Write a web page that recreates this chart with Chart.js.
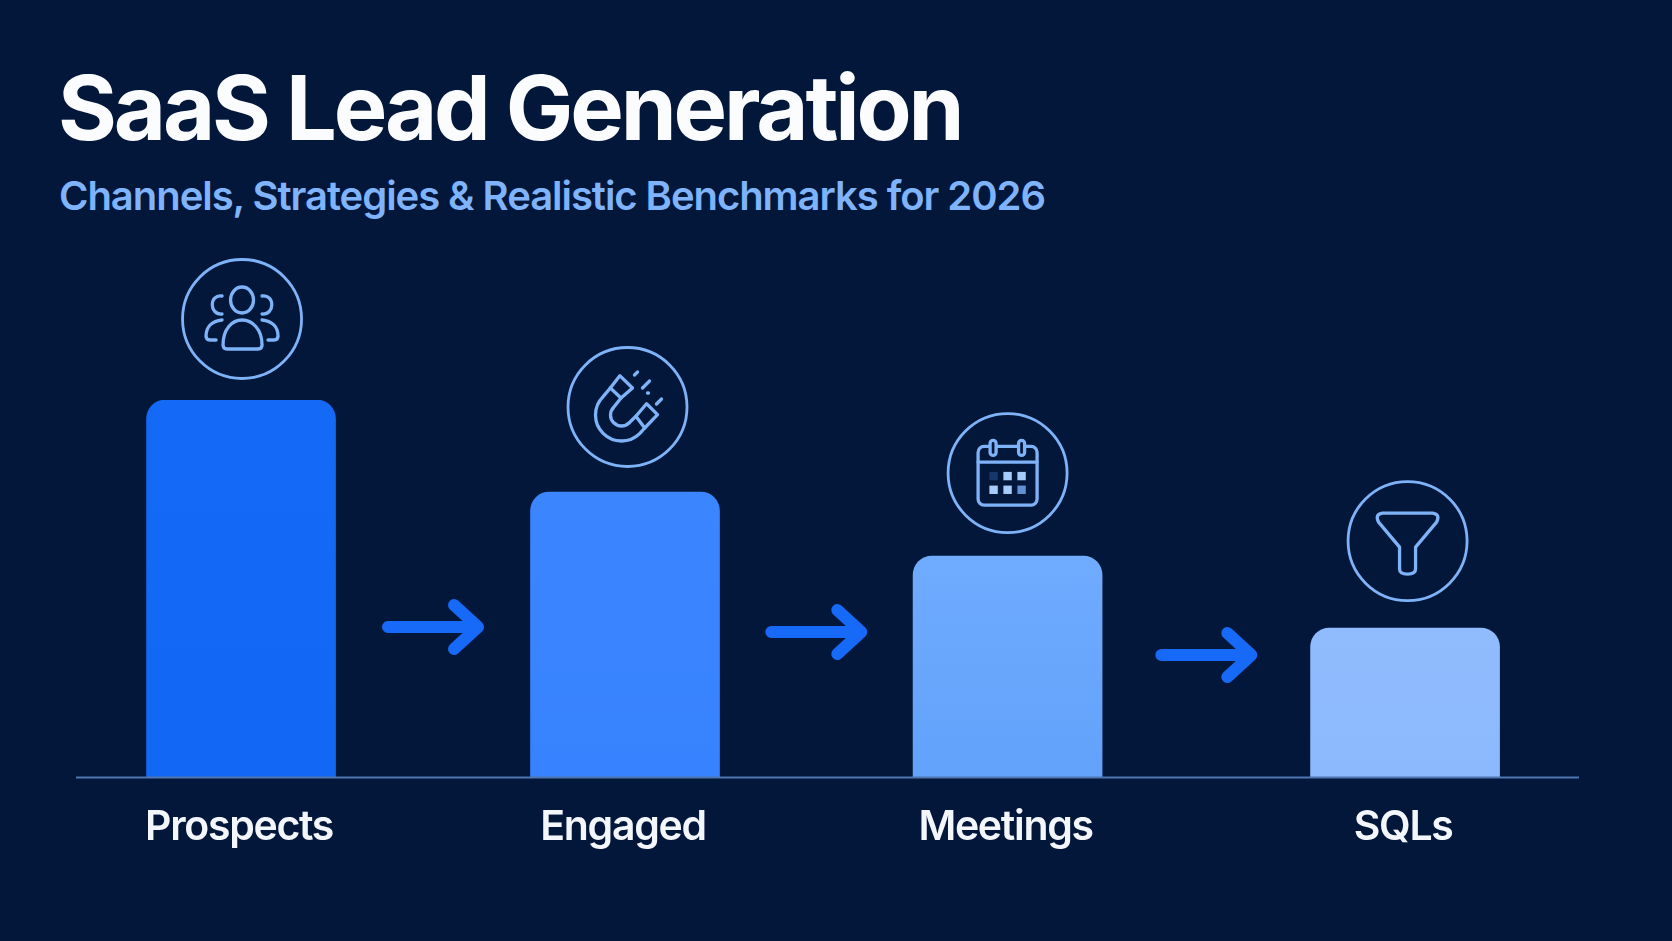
<!DOCTYPE html>
<html>
<head>
<meta charset="utf-8">
<title>SaaS Lead Generation</title>
<script src="https://cdn.jsdelivr.net/npm/chart.js@4"></script>
<style>
  html, body { margin: 0; padding: 0; background: #03173a; overflow: hidden; }
  #page { position: relative; width: 1672px; height: 941px; }
  #page canvas { position: absolute; left: 0; top: 0; }
  h1, h2 { position: absolute; margin: 0; white-space: nowrap; font-family: Inter, sans-serif; }
  h1 { left: 58px; top: 54px; font-size: 90px; line-height: 108px; font-weight: 700; color: #fbfcfe; letter-spacing: -3.15px; }
  h2 { left: 59px; top: 171px; font-size: 40px; line-height: 50px; font-weight: 600; color: #7fb3fb; letter-spacing: -1.05px; }
</style>
</head>
<body>
<div id="page">
  <h1>SaaS Lead Generation</h1>
  <h2>Channels, Strategies &amp; Realistic Benchmarks for 2026</h2>
  <canvas id="funnel" width="1672" height="941"></canvas>
</div>
<script>
// Values, as bar height relative to Prospects
const stages = ['Prospects', 'Engaged', 'Meetings', 'SQLs'];
const stageValues = [100, 75.6, 58.6, 39.5];

const barTop = ['#1469f6', '#3b85ff', '#6fabfe', '#90bcfe'];
const barBottom = ['#1367f5', '#3782fe', '#62a2fb', '#8cb9fd'];

const LINE = '#7eb3f8';
const ARROW = '#1769f8';

// The stages are not quite evenly spaced in the picture, so the category
// slots get a small pixel shift each.
const slotShift = [2.6, -0.9, -5.8, 4.2];

class StageScale extends Chart.CategoryScale {
  static id = 'stage';
  getPixelForValue(value, index) {
    return super.getPixelForValue(value, index) + (slotShift[Math.round(value)] || 0);
  }
}
Chart.register(StageScale);

function barFill(ctx) {
  const i = ctx.dataIndex;
  const area = ctx.chart.chartArea;
  const yScale = ctx.chart.scales.y;
  if (!area || !yScale) return barTop[i];
  const top = yScale.getPixelForValue(stageValues[i]);
  if (!Number.isFinite(top) || !Number.isFinite(area.bottom)) return barTop[i];
  const grad = ctx.chart.ctx.createLinearGradient(0, top, 0, area.bottom);
  grad.addColorStop(0, barTop[i]);
  grad.addColorStop(1, barBottom[i]);
  return grad;
}

// --- icons, drawn around (0,0) which is the middle of the ring
function peopleIcon(c) {
  c.beginPath();
  c.ellipse(0, -19, 11.5, 13, 0, 0, Math.PI * 2);
  c.stroke();
  // middle body
  c.beginPath();
  c.moveTo(-15, 30);
  c.quadraticCurveTo(-19, 30, -19, 26);
  c.bezierCurveTo(-19, 10, -10, 1, 0, 1);
  c.bezierCurveTo(10, 1, 20, 10, 20, 26);
  c.quadraticCurveTo(20, 30, 16, 30);
  c.closePath();
  c.stroke();
  for (const s of [-1, 1]) {
    c.beginPath();
    c.moveTo(s * 20, -23);
    c.bezierCurveTo(s * 33, -25, s * 33, -4, s * 20, -5);
    c.stroke();
    c.beginPath();
    c.moveTo(s * 20, 1);
    c.bezierCurveTo(s * 30, 2, s * 36, 8, s * 36, 17);
    c.quadraticCurveTo(s * 36, 21, s * 32, 21);
    c.lineTo(s * 26, 21);
    c.stroke();
  }
}

function magnetIcon(c) {
  c.beginPath();
  c.moveTo(-7.7, -31.3);
  c.lineTo(5, -19);
  c.lineTo(-6.5, -9);
  c.lineTo(-17.2, -19);
  c.closePath();
  c.stroke();
  c.beginPath();
  c.moveTo(19, -3.3);
  c.lineTo(30, 7.7);
  c.lineTo(17.2, 21);
  c.lineTo(8.4, 9.3);
  c.closePath();
  c.stroke();
  c.beginPath();
  c.moveTo(-17.2, -19);
  c.lineTo(-24.4, -10.4);
  c.arc(-6, 8, 26, Math.PI * 1.25, Math.PI * 0.25, true);
  c.lineTo(17.2, 21);
  c.stroke();
  c.beginPath();
  c.moveTo(-6.5, -9);
  c.lineTo(-13.8, 0.2);
  c.arc(-6, 8, 11, Math.PI * 1.25, Math.PI * 0.25, true);
  c.lineTo(8.4, 9.3);
  c.stroke();
  // sparks
  c.beginPath();
  c.moveTo(7, -32); c.lineTo(10, -35);
  c.moveTo(15, -19); c.lineTo(22, -26);
  c.moveTo(20, -14); c.lineTo(21, -14);
  c.moveTo(29, -3); c.lineTo(34, -8);
  c.stroke();
}

function calendarIcon(c) {
  c.beginPath();
  c.roundRect(-29.5, -26.7, 59, 58.7, 6);
  c.stroke();
  c.beginPath();
  c.moveTo(-29.5, -11);
  c.lineTo(29.5, -11);
  c.stroke();
  for (const x of [-14.5, 14]) {
    c.save();
    c.fillStyle = '#03173a';
    c.beginPath();
    c.roundRect(x - 3, -32.7, 6, 15, 3);
    c.fill();
    c.stroke();
    c.restore();
  }
  const cells = [
    [-14, 3, '#17366c'], [0, 3, '#a6ccfb'], [14, 3, '#a6ccfb'],
    [-14, 16.7, '#a6ccfb'], [0, 16.7, '#a6ccfb'], [14, 16.7, '#5f91d4']
  ];
  for (const [x, y, col] of cells) {
    c.fillStyle = col;
    c.fillRect(x - 4.2, y - 4.2, 8.4, 8.4);
  }
}

function funnelIcon(c) {
  c.beginPath();
  c.moveTo(-25, -28);
  c.lineTo(25, -28);
  c.quadraticCurveTo(33, -27, 29, -19);
  c.lineTo(8, 6);
  c.lineTo(8, 28);
  c.quadraticCurveTo(8, 33, 0, 33);
  c.quadraticCurveTo(-8, 33, -8, 28);
  c.lineTo(-8, 6);
  c.lineTo(-29, -19);
  c.quadraticCurveTo(-33, -27, -25, -28);
  c.closePath();
  c.stroke();
}

const icons = [peopleIcon, magnetIcon, calendarIcon, funnelIcon];
const iconRise = [81, 85, 83, 87];
const iconShift = [1, 2.5, 0, 2.5];
const arrowRise = [150, 145, 122];

const decorations = {
  id: 'decorations',
  beforeDraw(chart) {
    // tick labels are a little condensed in the picture
    chart.ctx.letterSpacing = '-1.3px';
  },
  afterDatasetsDraw(chart) {
    const c = chart.ctx;
    const bars = chart.getDatasetMeta(0).data;
    const base = chart.chartArea.bottom;
    c.save();
    // baseline
    c.strokeStyle = '#4f76b0';
    c.lineWidth = 2;
    c.beginPath();
    c.moveTo(76, base + 0.5);
    c.lineTo(1579, base + 0.5);
    c.stroke();

    c.lineCap = 'round';
    c.lineJoin = 'round';
    // rings and icons
    bars.forEach((bar, i) => {
      c.save();
      c.translate(bar.x + iconShift[i], bar.y - iconRise[i]);
      c.strokeStyle = LINE;
      c.lineWidth = 2.8;
      c.beginPath();
      c.arc(0, 0, 59.5, 0, Math.PI * 2);
      c.stroke();
      c.lineWidth = 3.3;
      icons[i](c);
      c.restore();
    });
    // arrows between bars
    c.strokeStyle = ARROW;
    c.lineWidth = 12;
    arrowRise.forEach((rise, i) => {
      const mid = (bars[i].x + bars[i + 1].x) / 2;
      const y = base - rise;
      c.beginPath();
      c.moveTo(mid - 45, y);
      c.lineTo(mid + 45, y);
      c.moveTo(mid + 21, y - 22);
      c.lineTo(mid + 45, y);
      c.lineTo(mid + 21, y + 22);
      c.stroke();
    });
    c.restore();
  }
};

new Chart(document.getElementById('funnel'), {
  type: 'bar',
  data: {
    labels: stages,
    datasets: [{
      data: stageValues,
      backgroundColor: barFill,
      borderWidth: 0,
      borderRadius: { topLeft: 19, topRight: 19, bottomLeft: 0, bottomRight: 0 },
      borderSkipped: false,
      barThickness: 189
    }]
  },
  plugins: [decorations],
  options: {
    responsive: false,
    animation: false,
    devicePixelRatio: 1,
    layout: { padding: { left: 44.7, right: 77.4, top: 400, bottom: 64 } },
    plugins: { legend: { display: false }, tooltip: { enabled: false }, title: { display: false } },
    scales: {
      y: { display: false, min: 0, max: 100 },
      x: {
        type: 'stage',
        afterFit(scale) { scale.height = 100; },
        grid: { display: false, drawTicks: false },
        border: { display: false },
        ticks: {
          color: '#f3f6fb',
          padding: 26,
          labelOffset: -2,
          autoSkip: false,
          maxRotation: 0,
          font: { family: 'Inter, sans-serif', size: 41, weight: '600' }
        }
      }
    }
  }
});
</script>
</body>
</html>
